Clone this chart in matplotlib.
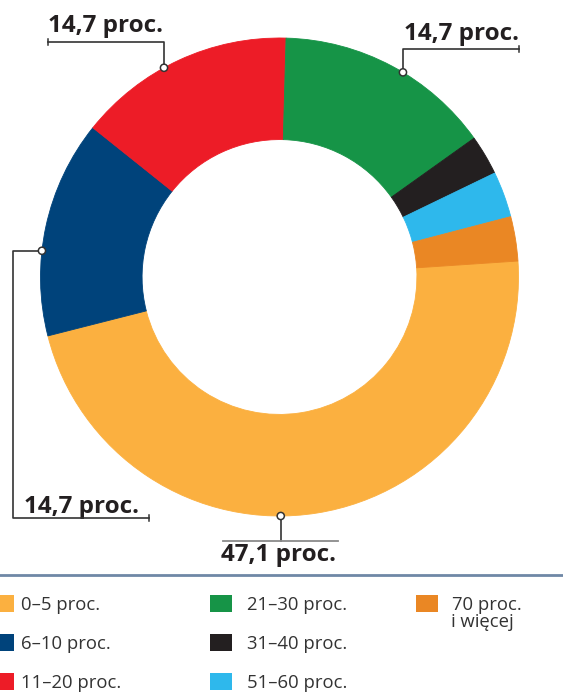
import matplotlib
matplotlib.use("Agg")
import matplotlib.pyplot as plt
import numpy as np
from matplotlib.patches import Rectangle, Circle

# ---- data ----
categories = ["0–5 proc.", "6–10 proc.", "11–20 proc.", "21–30 proc.",
              "31–40 proc.", "51–60 proc.", "70 proc.\ni więcej"]
values = [47.1, 14.7, 14.7, 14.7, 2.7, 3.1, 3.0]
colors = ["#FBB040", "#00437B", "#ED1C27", "#169447", "#231F20", "#2EB8EC", "#EA8724"]
value_labels = ["47,1 proc.", "14,7 proc.", "14,7 proc.", "14,7 proc."]

W, H = 563, 695
plt.rcParams['font.family'] = ['Open Sans', 'DejaVu Sans']

fig = plt.figure(figsize=(W / 100, H / 100), dpi=100)
ax = fig.add_axes([0, 0, 1, 1])

def Y(y):
    return H - y

cx, cy, R = 279.5, 277, 239
ring = R * 0.425
ax.pie(values, colors=colors, startangle=3.83, counterclock=False,
       radius=R, center=(cx, Y(cy)), frame=True,
       wedgeprops=dict(width=ring, linewidth=0.6, antialiased=True))
# match edge colors to faces to avoid seams
for w in ax.patches:
    w.set_edgecolor(w.get_facecolor())

ax.set_xlim(0, W)
ax.set_ylim(0, H)
ax.set_aspect('auto')
ax.axis('off')

line_c = "#333333"
txt_c = "#231F20"
BFS = 17.5
LFS = 13.3

def anchor(theta_deg):
    t = np.deg2rad(theta_deg)
    return cx + R * np.cos(t), cy - R * np.sin(t)

def dot(x, y):
    ax.add_patch(Circle((x, Y(y)), 3.6, facecolor="white", edgecolor=line_c,
                        linewidth=1.1, zorder=6))

def tick(x, y):
    ax.plot([x, x], [Y(y - 3), Y(y + 3)], color=line_c, lw=1.1, zorder=5)

lw = 1.2
# top-left (11-20)
ax_, ay_ = anchor(118.9)
ax.plot([ax_, ax_, 47.7], [Y(ay_), Y(41.7), Y(41.7)], color=line_c, lw=lw, zorder=5)
tick(47.7, 41.7)
dot(ax_, ay_)
ax.text(48, Y(32.5), value_labels[2], fontsize=BFS, fontweight='bold', color=txt_c,
        ha='left', va='baseline')

# top-right (21-30)
bx, by = anchor(58.9)
ax.plot([bx, bx, 518.7], [Y(by), Y(49), Y(49)], color=line_c, lw=lw, zorder=5)
tick(518.7, 49)
dot(bx, by)
ax.text(404, Y(40), value_labels[3], fontsize=BFS, fontweight='bold', color=txt_c,
        ha='left', va='baseline')

# left (6-10)
lx, ly = anchor(173.7)
ax.plot([lx, 13.3, 13.3, 149.3], [Y(ly), Y(ly), Y(517.7), Y(517.7)],
        color=line_c, lw=lw, zorder=5)
tick(149.3, 517.7)
dot(lx, ly)
ax.text(24, Y(512.7), value_labels[1], fontsize=BFS, fontweight='bold', color=txt_c,
        ha='left', va='baseline')

# bottom (0-5)
dx_, dy_ = anchor(-89.7)
ax.plot([dx_, dx_], [Y(dy_), Y(541)], color=line_c, lw=lw, zorder=5)
ax.plot([223, 337.7], [Y(541), Y(541)], color="#8a8a8a", lw=1.3, zorder=5)
dot(dx_, dy_)
ax.text(221, Y(560.7), value_labels[0], fontsize=BFS, fontweight='bold', color=txt_c,
        ha='left', va='baseline')

# separator
ax.plot([0, W], [Y(574.7), Y(574.7)], color="#6F88A6", lw=2, zorder=5)

# legend
cols_sq = [-8, 209.7, 416]
cols_tx = [21, 246.7, 452]
rows_base = [610, 649.3, 688.3]
positions = [(0, 0), (0, 1), (0, 2), (1, 0), (1, 1), (1, 2), (2, 0)]
for (c, r), lab, col in zip(positions, categories, colors):
    base = rows_base[r]
    ax.add_patch(Rectangle((cols_sq[c], Y(base + 1.7)), 22, 16.7,
                           facecolor=col, edgecolor='none', zorder=5))
    if "\n" in lab:
        l1, l2 = lab.split("\n")
        ax.text(cols_tx[c], Y(base), l1, fontsize=LFS, color="#333333",
                ha='left', va='baseline')
        ax.text(cols_tx[c] - 1, Y(base + 17), l2, fontsize=LFS, color="#333333",
                ha='left', va='baseline')
    else:
        ax.text(cols_tx[c], Y(base), lab, fontsize=LFS, color="#333333",
                ha='left', va='baseline')

fig.savefig("out.png", dpi=100)
